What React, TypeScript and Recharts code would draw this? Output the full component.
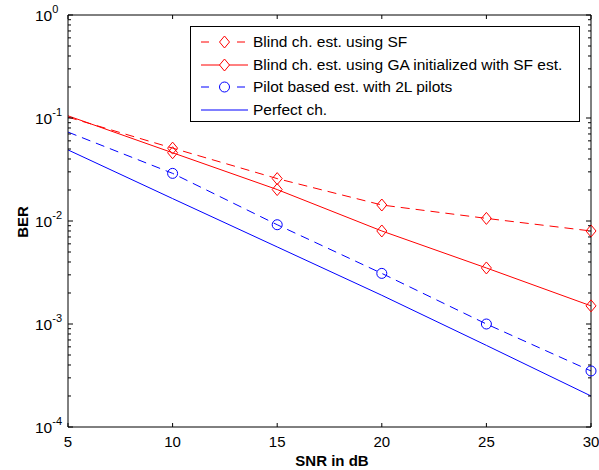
import React from "react";
import { LineChart, Line, XAxis, YAxis, Label } from "recharts";

// SNR points (dB)
const snr = [5, 10, 15, 20, 25, 30];

// BER curves
const berSF = [0.102, 0.051, 0.0258, 0.0143, 0.0106, 0.008];
const berGA = [0.105, 0.046, 0.0202, 0.008, 0.0035, 0.0015];
const berPilot = [0.073, 0.029, 0.0092, 0.0031, 0.001, 0.00035];
const berPerfect = [0.049, 0.0165, 0.0056, 0.0019, 0.00062, 0.0002];

const xTicks = [5, 10, 15, 20, 25, 30];
const yDecades = [-4, -3, -2, -1, 0];

const seriesNames = [
  "Blind ch. est. using SF",
  "Blind ch. est. using GA initialized with SF est.",
  "Pilot based est. with 2L pilots",
  "Perfect ch.",
];

const FONT = '"Liberation Sans", Arial, Helvetica, sans-serif';
const DASH = "9 6";

const data = snr.map((s, i) => ({
  snr: s,
  sf: berSF[i],
  ga: berGA[i],
  pilot: berPilot[i],
  perfect: berPerfect[i],
}));

// major + minor log ticks
const yTicks: number[] = [];
yDecades.forEach((d) => {
  yTicks.push(Math.pow(10, d));
  if (d < 0) {
    for (let m = 2; m <= 9; m++) yTicks.push(m * Math.pow(10, d));
  }
});

const isMajor = (v: number) =>
  Math.abs(Math.log10(v) - Math.round(Math.log10(v))) < 1e-6;

const LeftTick = (props: any) => {
  const { x, y, payload } = props;
  const major = isMajor(payload.value);
  const exp = Math.round(Math.log10(payload.value));
  return (
    <g>
      <line x1={x} x2={x + (major ? 5 : 3)} y1={y} y2={y} stroke="#000" />
      {major && (
        <text x={x - 33} y={y + 5.5} fontSize={15.5} fontFamily={FONT} fill="#000">
          10
          <tspan dy={-8} fontSize={11}>
            {exp}
          </tspan>
        </text>
      )}
    </g>
  );
};

const RightTick = (props: any) => {
  const { x, y, payload } = props;
  const major = isMajor(payload.value);
  return <line x1={x} x2={x - (major ? 5 : 3)} y1={y} y2={y} stroke="#000" />;
};

const BottomTick = (props: any) => {
  const { x, y, payload } = props;
  return (
    <g>
      <line x1={x} x2={x} y1={y} y2={y - 4} stroke="#000" />
      <text
        x={x}
        y={y + 20}
        textAnchor="middle"
        fontSize={15}
        fontFamily={FONT}
        fill="#000"
      >
        {payload.value}
      </text>
    </g>
  );
};

const TopTick = (props: any) => {
  const { x, y } = props;
  return <line x1={x} x2={x} y1={y} y2={y + 4} stroke="#000" />;
};

const Diamond = (props: any) => {
  const { cx, cy, payload, stroke } = props;
  if (payload.snr === 5 || cx == null) return <g />;
  return (
    <polygon
      points={`${cx},${cy - 6} ${cx + 5},${cy} ${cx},${cy + 6} ${cx - 5},${cy}`}
      fill="none"
      stroke={stroke}
    />
  );
};

const Circle = (props: any) => {
  const { cx, cy, payload, stroke } = props;
  if (payload.snr === 5 || cx == null) return <g />;
  return <circle cx={cx} cy={cy} r={5} fill="none" stroke={stroke} />;
};

const legendItems = [
  { name: seriesNames[0], color: "#ff0000", dashed: true, marker: "diamond" },
  { name: seriesNames[1], color: "#ff0000", dashed: false, marker: "diamond" },
  { name: seriesNames[2], color: "#0000ff", dashed: true, marker: "circle" },
  { name: seriesNames[3], color: "#0000ff", dashed: false, marker: "none" },
];

const LegendBox = () => (
  <div
    style={{
      position: "absolute",
      left: 190,
      top: 26,
      width: 388,
      height: 94,
      border: "1px solid #000",
      background: "#fff",
      fontFamily: FONT,
      fontSize: 15.5,
    }}
  >
    {legendItems.map((it, i) => (
      <div
        key={i}
        style={{
          position: "absolute",
          left: 0,
          top: 5 + i * 22.6,
          height: 20,
          display: "flex",
          alignItems: "center",
        }}
      >
        <svg width={62} height={20}>
          <line
            x1={10}
            x2={57}
            y1={10}
            y2={10}
            stroke={it.color}
            strokeDasharray={it.dashed ? "8 14 3 11 8" : undefined}
          />
          {it.marker === "diamond" && (
            <polygon
              points="33.5,4 38.5,10 33.5,16 28.5,10"
              fill="#fff"
              stroke={it.color}
            />
          )}
          {it.marker === "circle" && (
            <circle cx={33.5} cy={10} r={5} fill="#fff" stroke={it.color} />
          )}
        </svg>
        <span style={{ color: "#000", whiteSpace: "nowrap" }}>{it.name}</span>
      </div>
    ))}
  </div>
);

export default function App() {
  return (
    <div
      style={{
        position: "absolute",
        left: 0,
        top: 0,
        width: 599,
        height: 470,
        background: "#fff",
      }}
    >
      <LineChart
        width={599}
        height={470}
        data={data}
        margin={{ top: 0, right: 0, bottom: 0, left: 0 }}
      >
        <XAxis
          xAxisId="bottom"
          dataKey="snr"
          type="number"
          domain={[5, 30]}
          ticks={xTicks}
          height={43}
          tickSize={0}
          tickMargin={0}
          tick={<BottomTick />}
          axisLine={{ stroke: "#000" }}
          interval={0}
        >
          <Label
            content={() => (
              <text
                x={332}
                y={466}
                textAnchor="middle"
                fontSize={15}
                fontWeight="bold"
                fontFamily={FONT}
                fill="#000"
              >
                SNR in dB
              </text>
            )}
          />
        </XAxis>
        <XAxis
          xAxisId="top"
          orientation="top"
          dataKey="snr"
          type="number"
          domain={[5, 30]}
          ticks={xTicks}
          height={15}
          tickSize={0}
          tickMargin={0}
          tick={<TopTick />}
          axisLine={{ stroke: "#000" }}
          interval={0}
        />
        <YAxis
          yAxisId="left"
          scale="log"
          domain={[0.0001, 1]}
          allowDataOverflow
          ticks={yTicks}
          width={68}
          tickSize={0}
          tickMargin={0}
          tick={<LeftTick />}
          axisLine={{ stroke: "#000" }}
          interval={0}
        >
          <Label
            content={() => (
              <text
                x={0}
                y={0}
                transform="translate(28,222) rotate(-90)"
                textAnchor="middle"
                fontSize={15}
                fontWeight="bold"
                fontFamily={FONT}
                fill="#000"
              >
                BER
              </text>
            )}
          />
        </YAxis>
        <YAxis
          yAxisId="right"
          orientation="right"
          scale="log"
          domain={[0.0001, 1]}
          allowDataOverflow
          ticks={yTicks}
          width={8}
          tickSize={0}
          tickMargin={0}
          tick={<RightTick />}
          axisLine={{ stroke: "#000" }}
          interval={0}
        />
        <Line
          xAxisId="bottom"
          yAxisId="left"
          dataKey="sf"
          name={seriesNames[0]}
          stroke="#ff0000"
          strokeWidth={1}
          strokeDasharray={DASH}
          dot={<Diamond />}
          isAnimationActive={false}
        />
        <Line
          xAxisId="bottom"
          yAxisId="left"
          dataKey="ga"
          name={seriesNames[1]}
          stroke="#ff0000"
          strokeWidth={1}
          dot={<Diamond />}
          isAnimationActive={false}
        />
        <Line
          xAxisId="bottom"
          yAxisId="left"
          dataKey="pilot"
          name={seriesNames[2]}
          stroke="#0000ff"
          strokeWidth={1}
          strokeDasharray={DASH}
          dot={<Circle />}
          isAnimationActive={false}
        />
        <Line
          xAxisId="bottom"
          yAxisId="left"
          dataKey="perfect"
          name={seriesNames[3]}
          stroke="#0000ff"
          strokeWidth={1}
          dot={false}
          isAnimationActive={false}
        />
      </LineChart>
      <LegendBox />
    </div>
  );
}
